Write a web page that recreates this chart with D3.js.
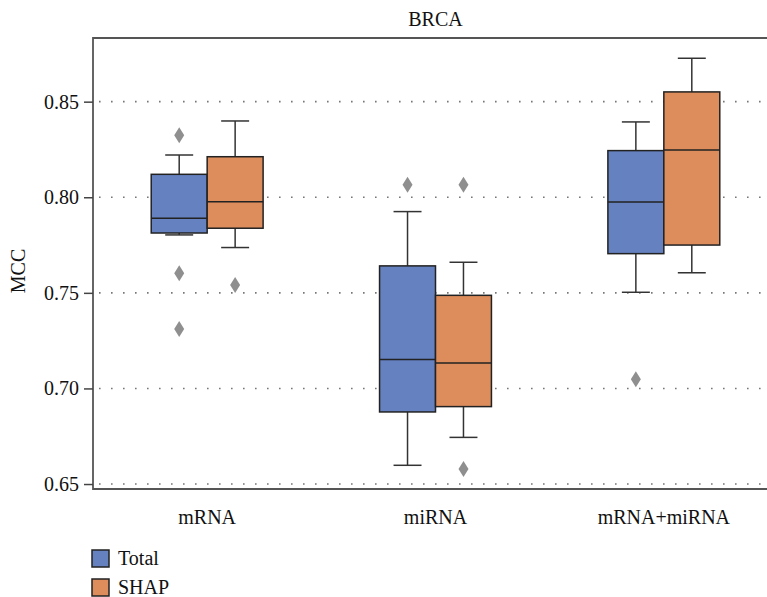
<!DOCTYPE html>
<html>
<head>
<meta charset="utf-8">
<script src="https://cdn.jsdelivr.net/npm/d3@7"></script>
<style>
  body { margin: 0; background: #fff; }
  svg { display: block; font-family: "Liberation Serif", "DejaVu Serif", serif; }
</style>
</head>
<body>
<script>
// data
var categories = ["mRNA", "miRNA", "mRNA+miRNA"];
var seriesNames = ["Total", "SHAP"];
var seriesColors = ["#6581c0", "#dd8d5c"];
var yTicks = [0.65, 0.70, 0.75, 0.80, 0.85];

// [lower whisker, q1, median, q3, upper whisker]
var totalStats = [
    [0.7803, 0.7813, 0.7890, 0.8120, 0.8221],
    [0.6598, 0.6877, 0.7152, 0.7641, 0.7925],
    [0.7503, 0.7705, 0.7975, 0.8244, 0.8394]
];
var shapStats = [
    [0.7737, 0.7838, 0.7977, 0.8212, 0.8399],
    [0.6744, 0.6905, 0.7133, 0.7487, 0.7660],
    [0.7605, 0.7750, 0.8247, 0.8551, 0.8727]
];
var totalOutliers = [[0.8324, 0.7602, 0.7311], [0.8066], [0.7048]];
var shapOutliers = [[0.7541], [0.8066, 0.6578], []];

var margin = { top: 38, left: 93 },
    plotW = 685,
    plotH = 451,
    fontSize = 20;

var svg = d3.select("body").append("svg")
    .attr("width", 767)
    .attr("height", 597);

var g = svg.append("g")
    .attr("transform", "translate(" + margin.left + "," + margin.top + ")");

var x = d3.scaleBand().domain(categories).range([0, plotW]);
var x1 = d3.scaleBand().domain(seriesNames).range([x.bandwidth() * 0.255, x.bandwidth() * 0.745]);
var y = d3.scaleLinear().domain([0.6474, 0.8833]).range([plotH, 0]);

// dotted grid
g.selectAll(".grid").data(yTicks).enter().append("line")
    .attr("x1", 0).attr("x2", plotW)
    .attr("y1", function (d) { return y(d); })
    .attr("y2", function (d) { return y(d); })
    .attr("stroke", "#777")
    .attr("stroke-width", 1.6)
    .attr("stroke-dasharray", "1.6,10.4")
    .attr("stroke-dashoffset", -6);

// boxes
var groups = [
    { name: "Total", stats: totalStats, out: totalOutliers, color: seriesColors[0] },
    { name: "SHAP", stats: shapStats, out: shapOutliers, color: seriesColors[1] }
];

var bw = x1.bandwidth();
groups.forEach(function (s) {
    categories.forEach(function (c, i) {
        var st = s.stats[i];
        var cx = x(c) + x1(s.name) + bw / 2;
        var left = x(c) + x1(s.name);

        // whiskers
        g.append("line").attr("x1", cx).attr("x2", cx)
            .attr("y1", y(st[4])).attr("y2", y(st[3]))
            .attr("stroke", "#333").attr("stroke-width", 1.5);
        g.append("line").attr("x1", cx).attr("x2", cx)
            .attr("y1", y(st[1])).attr("y2", y(st[0]))
            .attr("stroke", "#333").attr("stroke-width", 1.5);
        [st[0], st[4]].forEach(function (v) {
            g.append("line")
                .attr("x1", cx - bw / 4).attr("x2", cx + bw / 4)
                .attr("y1", y(v)).attr("y2", y(v))
                .attr("stroke", "#333").attr("stroke-width", 1.5);
        });

        g.append("rect")
            .attr("x", left).attr("width", bw)
            .attr("y", y(st[3])).attr("height", y(st[1]) - y(st[3]))
            .attr("fill", s.color)
            .attr("stroke", "#222").attr("stroke-width", 1.5);

        g.append("line")
            .attr("x1", left).attr("x2", left + bw)
            .attr("y1", y(st[2])).attr("y2", y(st[2]))
            .attr("stroke", "#222").attr("stroke-width", 1.5);

        // outliers as diamonds
        s.out[i].forEach(function (v) {
            g.append("path")
                .attr("d", "M0,-8L5,0L0,8L-5,0Z")
                .attr("transform", "translate(" + cx + "," + y(v) + ")")
                .attr("fill", "#8f8f8f");
        });
    });
});

// frame
g.append("path")
    .attr("d", "M0," + plotH + "V0H" + plotW + "V" + plotH + "Z")
    .attr("fill", "none")
    .attr("stroke", "#555")
    .attr("stroke-width", 1.8);

// y axis ticks
var yAxis = g.append("g")
    .call(d3.axisLeft(y).tickValues(yTicks).tickFormat(d3.format(".2f")).tickSize(9).tickPadding(5));
yAxis.select(".domain").remove();
yAxis.selectAll(".tick line").attr("stroke", "#444").attr("stroke-width", 1.5);
yAxis.selectAll("text").attr("font-size", fontSize).attr("fill", "#111")
    .attr("font-family", "Liberation Serif, serif");

// category labels
g.selectAll(".cat").data(categories).enter().append("text")
    .attr("x", function (d) { return x(d) + x.bandwidth() / 2; })
    .attr("y", plotH + 35)
    .attr("text-anchor", "middle")
    .attr("font-size", fontSize)
    .attr("fill", "#111")
    .text(function (d) { return d; });

// title
g.append("text")
    .attr("x", plotW / 2).attr("y", -12)
    .attr("text-anchor", "middle")
    .attr("font-size", fontSize)
    .attr("fill", "#111")
    .text("BRCA");

// y label
svg.append("text")
    .attr("transform", "translate(25,271) rotate(-90)")
    .attr("text-anchor", "middle")
    .attr("font-size", fontSize)
    .attr("fill", "#111")
    .text("MCC");

// legend
var legend = svg.append("g").attr("transform", "translate(92,550)");
seriesNames.forEach(function (n, i) {
    legend.append("rect")
        .attr("x", 0).attr("y", i * 29)
        .attr("width", 17).attr("height", 17)
        .attr("fill", seriesColors[i])
        .attr("stroke", "#222").attr("stroke-width", 1.5);
    legend.append("text")
        .attr("x", 26).attr("y", i * 29 + 15)
        .attr("font-size", fontSize)
        .attr("fill", "#111")
        .text(n);
});
</script>
</body>
</html>
